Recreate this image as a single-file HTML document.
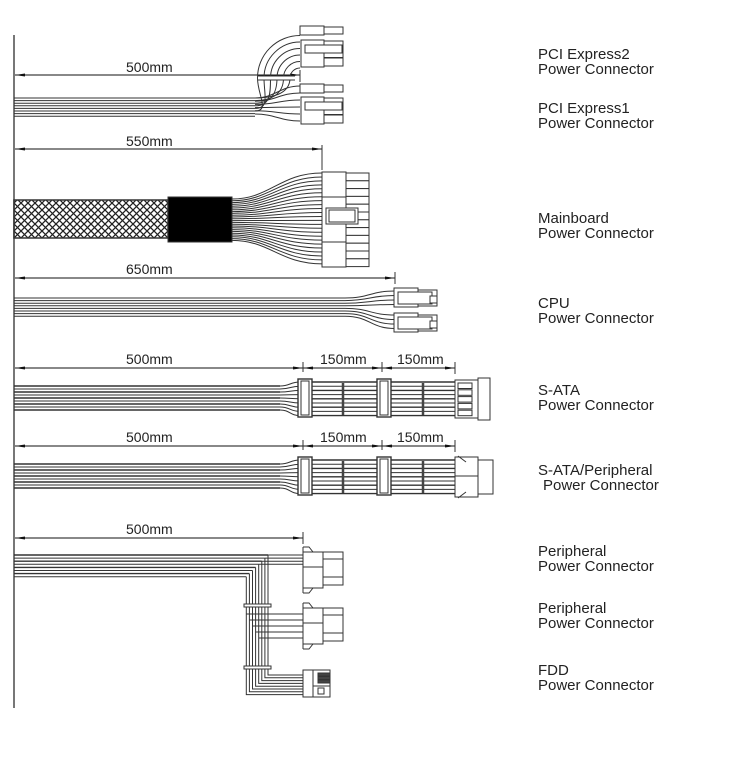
<!DOCTYPE html>
<html><head><meta charset="utf-8"><style>
body{margin:0;background:#fff}
svg{display:block}
text{font-family:"Liberation Sans",sans-serif;fill:#222}
.lab{font-size:15px}
.dim{font-size:14px}
</style></head><body>
<svg id="s" width="730" height="762" viewBox="0 0 730 762" xmlns="http://www.w3.org/2000/svg">
<defs>
<pattern id="br" width="7" height="7" patternUnits="userSpaceOnUse">
<path d="M0 0L7 7M7 0L0 7" stroke="#222" stroke-width="1.3"/>
</pattern>
<marker id="ar" markerWidth="10" markerHeight="6" refX="10" refY="3" orient="auto" markerUnits="userSpaceOnUse">
<path d="M0 1.5L10 3L0 4.5z" fill="#111"/>
</marker>
<marker id="al" markerWidth="10" markerHeight="6" refX="0" refY="3" orient="auto" markerUnits="userSpaceOnUse">
<path d="M10 1.5L0 3L10 4.5z" fill="#111"/>
</marker>
</defs>
<g id="g" fill="none" stroke="#333" stroke-width="1"></g>
<g class="lab">
<text x="538" y="59">PCI Express2</text><text x="538" y="74">Power Connector</text>
<text x="538" y="113">PCI Express1</text><text x="538" y="128">Power Connector</text>
<text x="538" y="223">Mainboard</text><text x="538" y="238">Power Connector</text>
<text x="538" y="308">CPU</text><text x="538" y="323">Power Connector</text>
<text x="538" y="395">S-ATA</text><text x="538" y="410">Power Connector</text>
<text x="538" y="475">S-ATA/Peripheral</text><text x="543" y="490">Power Connector</text>
<text x="538" y="556">Peripheral</text><text x="538" y="571">Power Connector</text>
<text x="538" y="613">Peripheral</text><text x="538" y="628">Power Connector</text>
<text x="538" y="675">FDD</text><text x="538" y="690">Power Connector</text>
</g>
<g class="dim">
<text x="126" y="72">500mm</text>
<text x="126" y="146">550mm</text>
<text x="126" y="274">650mm</text>
<text x="126" y="364">500mm</text><text x="320" y="364">150mm</text><text x="397" y="364">150mm</text>
<text x="126" y="442">500mm</text><text x="320" y="442">150mm</text><text x="397" y="442">150mm</text>
<text x="126" y="534">500mm</text>
</g>
</svg>
<script>
const g=document.getElementById('g');const NS='http://www.w3.org/2000/svg';
function el(t,a){const e=document.createElementNS(NS,t);for(const k in a)e.setAttribute(k,a[k]);g.appendChild(e);return e;}
function L(x1,y1,x2,y2,w,c){return el('line',{x1,y1,x2,y2,'stroke-width':w||1,stroke:c||'#333'});}
function R(x,y,w,h,f,sw){return el('rect',{x,y,width:w,height:h,fill:f||'#fff','stroke-width':sw||1});}
function P(d,w){return el('path',{d,'stroke-width':w||1});}
function dim(y,x1,x2){const l=L(x1,y,x2,y,1,'#111');l.setAttribute('marker-start','url(#al)');l.setAttribute('marker-end','url(#ar)');}
// main vertical
L(14,35,14,708,1.6,'#555');
// PCI
dim(75,15,300); L(300,70,300,82);
for(let i=0;i<8;i++){const y=98+i*2.6;L(14,y,255,y);}
for(let i=0;i<6;i++){const r=10+i*6.5;const y=98+i*2.6;
 P(`M255 ${y} C270 ${y} ${300-r} ${95} ${300-r} 78 A ${r} ${r} 0 0 1 300 ${78-r}`);}
for(let i=0;i<6;i++){const y0=98+i*3.2;const y1=86+i*7;P(`M255 ${y0} C275 ${y0} 280 ${y1} 300 ${y1}`);}
L(258,78,295,78,3,'#fff');L(258,76,295,76);L(258,80,295,80);
function pcie(y0,y1){R(300,y0,24,9);R(324,y0+1,19,7);R(301,y1,23,27);
 for(let k=0;k<3;k++)R(324,y1+1+k*8.5,19,8);R(305,y1+5,37,8);}
pcie(26,40);pcie(84,97);
// Mainboard
dim(149,15,322);L(322,145,322,170);
R(14,200,154,38,'url(#br)',1.5);
R(168,197,64,45,'#000');
for(let i=0;i<24;i++){const ys=199+i*1.8;const ye=173+i*3.95;P(`M232 ${ys} C270 ${ys} 280 ${ye} 322 ${ye}`);}
R(322,172,24,95);L(322,197,346,197);L(322,242,346,242);
for(let k=0;k<12;k++)R(346,173+k*7.8,23,7.8);
R(326,208,32,16);R(329,210,26,12);
// CPU
dim(278,15,395);L(395,272,395,284);
for(let i=0;i<8;i++){const y=298+i*2.6;L(14,y,345,y);const ye=i<4?291+i*4.5:315+(i-4)*4.5;P(`M345 ${y} C370 ${y} 370 ${ye} 395 ${ye}`);}
function cpu(y){R(394,y,24,19);R(418,y+2,19,16);R(398,y+4,34,12);R(430,y+8,7,7);}
cpu(288);cpu(313);
// SATA rows
function sata(dy,type){
 dim(368+dy,15,303);dim(368+dy,303,382);dim(368+dy,382,455);
 L(303,362+dy,303,372+dy);L(382,362+dy,382,372+dy);L(455,362+dy,455,374+dy);
 for(let i=0;i<9;i++){const y=386+dy+i*3;L(14,y,280,y,i%2?1:1.6);const ye=382+dy+i*4.2;P(`M280 ${y} C290 ${y} 290 ${ye} 300 ${ye}`);L(300,ye,455,ye,i%2?1:1.4);}
 for(const x of [298,377]){R(x,379+dy,14,38,'#fff',1.4);R(x+3,381+dy,8,34,'#fff',1);}
 for(const x of [343,423]){L(x,383+dy,x,415+dy,2.5,'#444');}
 if(type==0){R(455,380,23,38);for(let k=0;k<5;k++)R(458,383+k*6.8,14,5.5);R(478,378,12,42);}
 else{R(455,457,23,40);R(478,460,15,34);L(455,476,478,476);L(458,456,466,462);L(458,498,466,492);}
}
sata(0,0);sata(78,1);
// Peripheral
dim(538,15,303);L(303,532,303,544);
for(let i=0;i<8;i++){const y=555+i*3.1;const x=268-i*3.1;
 L(14,y,x,y,i%2?1:1.4);
 if(i<4)L(x,y,303,y);
}
// verticals
const xs=[];for(let i=0;i<8;i++)xs.push(268-i*3.1);
for(let i=0;i<8;i++){const x=xs[i];const y0=555+i*3.1;const ye=675+(i)*2.8;P(`M${x} ${y0} L${x} ${ye} L303 ${ye}`);}
for(let i=0;i<5;i++){const x=xs[7-i]+0;const y=614+i*6;L(x+(i>0?0:0),y,303,y);}
R(244,604,27,3);R(244,666,27,3);
function periph(y){R(303,y+5,20,36);R(323,y+5,20,33);P(`M303 ${y} L309 ${y} L313 ${y+5}`);P(`M303 ${y+46} L309 ${y+46} L313 ${y+41}`);L(303,y,303,y+46);L(303,y+20,323,y+20);L(323,y+12,343,y+12);L(323,y+30,343,y+30);}
periph(547);periph(603);
R(303,670,27,27);L(313,670,313,697);L(313,686,330,686);for(let k=0;k<3;k++)R(318,673+k*3.5,12,3,'#444');R(318,688,6,6);
</script>
</body></html>
